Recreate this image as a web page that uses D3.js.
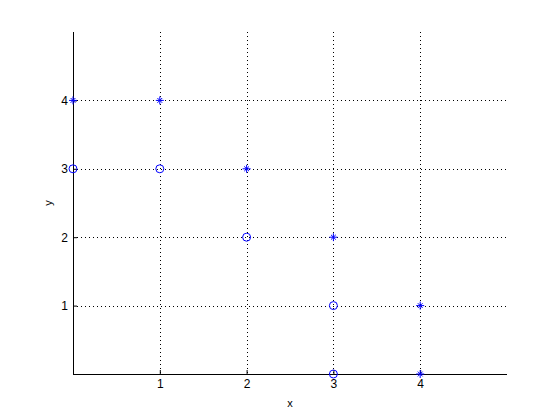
<!DOCTYPE html>
<html>
<head>
<meta charset="utf-8">
<script src="https://cdn.jsdelivr.net/npm/d3@7"></script>
<style>
  body { margin: 0; background: #fff; }
  svg text { font-family: "Liberation Sans", Arial, sans-serif; font-size: 12px; fill: #000; }
</style>
</head>
<body>
<svg id="chart" width="560" height="420"></svg>
<script>
'use strict';

// data
const starX = [0, 1, 2, 3, 4, 4];
const starY = [4, 4, 3, 2, 1, 0];
const circleX = [0, 1, 2, 3, 3];
const circleY = [3, 3, 2, 1, 0];
const xTicks = [1, 2, 3, 4];
const yTicks = [1, 2, 3, 4];
const xDomain = [0, 5];
const yDomain = [0, 5];

const margin = { top: 32, left: 73, bottom: 46, right: 53 };
const width = 560 - margin.left - margin.right;
const height = 420 - margin.top - margin.bottom;

const svg = d3.select("#chart");
const chart = svg.append("g")
  .attr("transform", `translate(${margin.left}, ${margin.top})`);

const xScale = d3.scaleLinear().domain(xDomain).range([0, width]);
const yScale = d3.scaleLinear().domain(yDomain).range([height, 0]);

// dotted grid
chart.append("g").selectAll("line")
  .data(xTicks)
  .enter().append("line")
    .attr("x1", d => Math.round(xScale(d)) + 0.5)
    .attr("x2", d => Math.round(xScale(d)) + 0.5)
    .attr("y1", 0)
    .attr("y2", height)
    .attr("stroke", "#000")
    .attr("stroke-dasharray", "1,3");

chart.append("g").selectAll("line")
  .data(yTicks)
  .enter().append("line")
    .attr("y1", d => Math.round(yScale(d)) + 0.5)
    .attr("y2", d => Math.round(yScale(d)) + 0.5)
    .attr("x1", 0)
    .attr("x2", width)
    .attr("stroke", "#000")
    .attr("stroke-dasharray", "1,3");

// axes (ticks inward, MATLAB style)
const xAxis = d3.axisBottom(xScale).tickValues(xTicks).tickSize(-4).tickPadding(5).tickFormat(d3.format("d"));
const yAxis = d3.axisLeft(yScale).tickValues(yTicks).tickSize(-4).tickPadding(5).tickFormat(d3.format("d"));

const gx = chart.append("g")
  .attr("transform", `translate(0, ${height})`)
  .call(xAxis);
const gy = chart.append("g")
  .call(yAxis);

[gx, gy].forEach(function (g) {
  g.select(".domain").remove();
  g.selectAll(".tick line").attr("stroke", "#000");
  g.selectAll(".tick text").style("font-family", "Liberation Sans, Arial, sans-serif").style("font-size", "12px");
});

chart.append("line")
  .attr("x1", 0).attr("x2", width)
  .attr("y1", height + 0.5).attr("y2", height + 0.5)
  .attr("stroke", "#000");
chart.append("line")
  .attr("x1", 0.5).attr("x2", 0.5)
  .attr("y1", 0).attr("y2", height)
  .attr("stroke", "#000");

// markers
const starSize = 4;
chart.append("g").selectAll("path")
  .data(starX.map((x, i) => [x, starY[i]]))
  .enter().append("path")
    .attr("transform", d => `translate(${xScale(d[0])}, ${yScale(d[1])})`)
    .attr("d", `M${-starSize},0H${starSize}M0,${-starSize}V${starSize}` +
      `M${-starSize * 0.6},${-starSize * 0.6}L${starSize * 0.6},${starSize * 0.6}` +
      `M${-starSize * 0.6},${starSize * 0.6}L${starSize * 0.6},${-starSize * 0.6}`)
    .attr("stroke", "#0000ff")
    .attr("fill", "none");

chart.append("g").selectAll("circle")
  .data(circleX.map((x, i) => [x, circleY[i]]))
  .enter().append("circle")
    .attr("cx", d => xScale(d[0]))
    .attr("cy", d => yScale(d[1]))
    .attr("r", 4)
    .attr("stroke", "#0000ff")
    .attr("fill", "none");

// labels
svg.append("text")
  .attr("x", margin.left + width / 2)
  .attr("y", 407)
  .attr("text-anchor", "middle")
  .style("font-size", "11px")
  .text("x");

svg.append("text")
  .attr("transform", `translate(52, ${margin.top + height / 2}) rotate(-90)`)
  .attr("text-anchor", "middle")
  .style("font-size", "11px")
  .text("y");
</script>
</body>
</html>
